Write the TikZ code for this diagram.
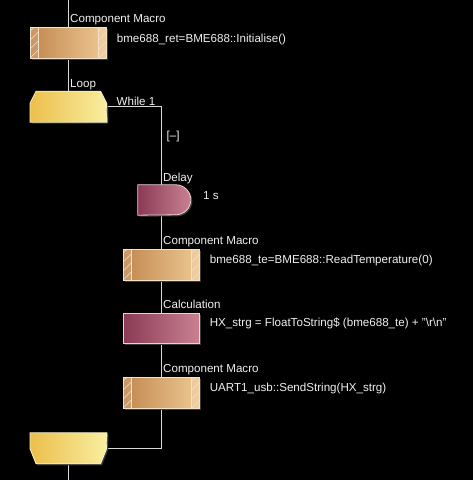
\documentclass[tikz,border=0pt]{standalone}
\usepackage{fontspec}
\setmainfont{Liberation Sans}
\usetikzlibrary{calc,backgrounds,shadows}

\definecolor{macrodark}{HTML}{C28850}
\definecolor{macrolight}{HTML}{EEC994}
\definecolor{macroedge}{HTML}{F2E2C8}
\definecolor{loopdark}{HTML}{ECBF4C}
\definecolor{looplight}{HTML}{F8EEA0}
\definecolor{loopedge}{HTML}{FAF2C8}
\definecolor{reddark}{HTML}{8A3A55}
\definecolor{redlight}{HTML}{C98292}
\definecolor{rededge}{HTML}{EAD2DA}
\definecolor{wirecol}{HTML}{D8D8D8}
\definecolor{textcol}{HTML}{F0F0F0}
\definecolor{shadowcol}{HTML}{3A3A3A}

\begin{document}
\begin{tikzpicture}[x=1pt,y=-1pt,
  font=\fontsize{11.6}{14}\selectfont,
  wire/.style={draw=wirecol,line width=0.8pt},
  caption/.style={anchor=base west,inner sep=0pt,text=textcol},
  shadowed/.style={drop shadow={shadow xshift=1.5pt,shadow yshift=-1.5pt,fill=shadowcol,opacity=1}},
  hatchline/.style={draw=macroedge,line width=0.6pt},
  macrobox/.style={rectangle,minimum width=76.5pt,minimum height=31pt,inner sep=0pt,
    draw=macroedge,line width=0.8pt,left color=macrodark,right color=macrolight,shadowed,
    path picture={
      \foreach \sd/\xs in {west/0pt,east/-8pt}{
        \fill[white,opacity=0.12] ([xshift=\xs]path picture bounding box.south \sd) rectangle ([xshift=\xs+8pt]path picture bounding box.north \sd);
        \begin{scope}
          \clip ([xshift=\xs]path picture bounding box.south \sd) rectangle ([xshift=\xs+8pt]path picture bounding box.north \sd);
          \foreach \k in {-9,0,...,36}
            \draw[hatchline] ([xshift=\xs,yshift=\k pt]path picture bounding box.south \sd) -- ++(12pt,12pt);
        \end{scope}
      }
      \draw[hatchline] ([xshift=8pt]path picture bounding box.south west) -- ([xshift=8pt]path picture bounding box.north west);
      \draw[hatchline] ([xshift=-8pt]path picture bounding box.south east) -- ([xshift=-8pt]path picture bounding box.north east);
    }},
  redbox/.style={draw=rededge,line width=0.8pt,left color=reddark,right color=redlight,shadowed},
  loopbox/.style={draw=loopedge,line width=0.8pt,left color=loopdark,right color=looplight,shadowed},
  hidden/.style={rectangle,inner sep=0pt,minimum width=76.5pt,minimum height=31pt}]
\useasboundingbox (0,0) rectangle (473,480);

% component macro: init
\coordinate (top) at (68.5,0);
\node[macrobox] (cma) at (68.5,42.5) {};
\node[caption] (cmalab) at ($(cma.north)+(1.5,-3.7)$) {Component Macro};
\node[caption] (cmatxt) at ($(cma.east)+(9.5,-0.5)$) {bme688\_ret=BME688::Initialise()};

% loop start
\node[hidden] (ls) at (68.5,106.5) {};
\filldraw[loopbox] (ls.south west) -- ++(0,-19) -- ++(6,-12) -- ++(64.5,0) -- ++(6,12) -- (ls.south east) -- cycle;
\node[caption] (lslab) at ($(ls.north)+(1.5,-3.7)$) {Loop};
\node[caption] (lstxt) at ($(ls.east)+(9.5,-1.5)$) {While 1};
\node[caption] (fold) at (166.5,139.5) {[--]};

% delay
\node[hidden,minimum width=53pt,minimum height=30pt] (delay) at (164.5,200) {};
\filldraw[redbox] (delay.south west) -- (delay.north west) -- ++(38,0) arc[start angle=90,end angle=-90,radius=15pt] -- cycle;
\node[caption] (delaylab) at ($(delay.north west)+(25,-3.5)$) {Delay};
\node[caption] (delaytxt) at ($(delay.east)+(11.7,-0.7)$) {1 s};

% component macro: read temperature
\node[macrobox] (cmb) at (161.5,264.5) {};
\node[caption] (cmblab) at ($(cmb.north)+(1.5,-3.7)$) {Component Macro};
\node[caption] (cmbtxt) at ($(cmb.east)+(9.5,-1)$) {bme688\_te=BME688::ReadTemperature(0)};

% calculation
\node[rectangle,minimum width=76.5pt,minimum height=30pt,inner sep=0pt,redbox] (calc) at (161.5,328) {};
\node[caption] (calclab) at ($(calc.north)+(1.5,-3.7)$) {Calculation};
\node[caption] (calctxt) at ($(calc.east)+(9.5,-2)$) {HX\_strg = FloatToString\$ (bme688\_te) + "\textbackslash r\textbackslash n"};

% component macro: send string
\node[macrobox] (cmc) at (161.5,392.5) {};
\node[caption] (cmclab) at ($(cmc.north)+(1.5,-3.7)$) {Component Macro};
\node[caption] (cmctxt) at ($(cmc.east)+(9.5,-0.8)$) {UART1\_usb::SendString(HX\_strg)};

% loop end
\node[hidden] (le) at (68.5,448.5) {};
\filldraw[loopbox] (le.north west) -- ++(0,16) -- ++(6,15) -- ++(64.5,0) -- ++(6,-15) -- (le.north east) -- cycle;
\coordinate (bot) at (68.5,480);

\begin{scope}[on background layer]
  \fill[black] (0,0) rectangle (473,480);
  \draw[wire] (top) -- (cma);
  \draw[wire] (cma) -- (ls);
  \draw[wire] (ls.east) -| (cmb.north);
  \draw[wire] (cmb) -- (calc);
  \draw[wire] (calc) -- (cmc);
  \draw[wire] (cmc.south) |- (le.east);
  \draw[wire] (le) -- (bot);
\end{scope}
\end{tikzpicture}
\end{document}
